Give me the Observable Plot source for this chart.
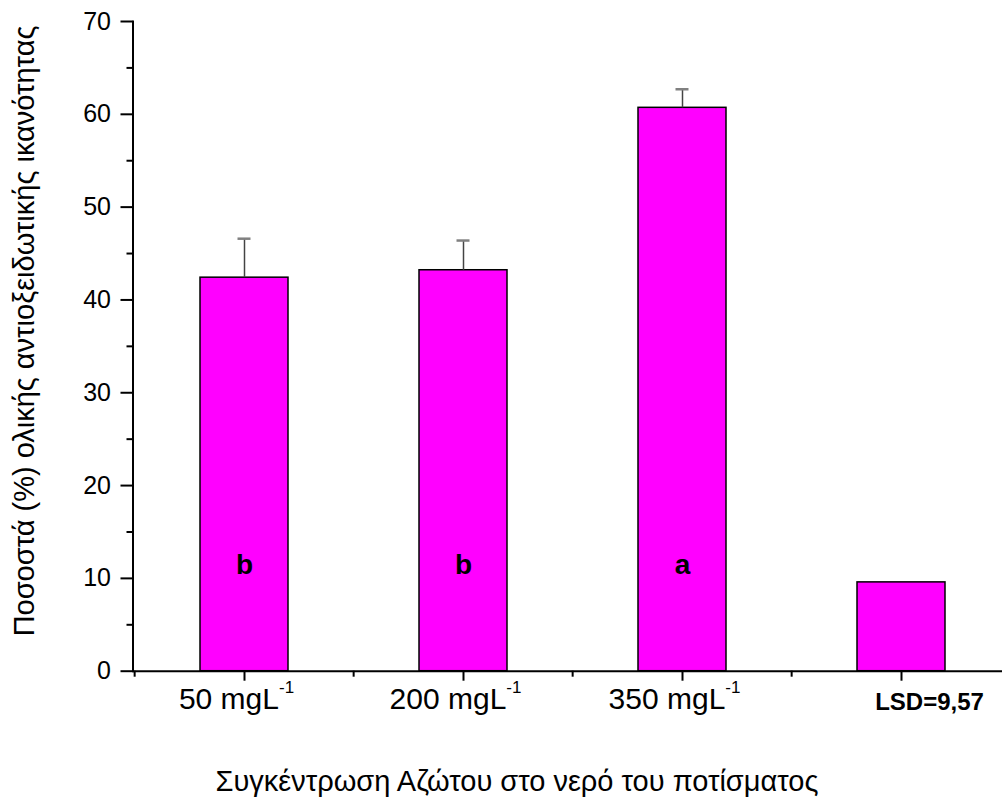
<!DOCTYPE html>
<html>
<head>
<meta charset="utf-8">
<script src="https://cdn.jsdelivr.net/npm/d3@7"></script>
<script src="https://cdn.jsdelivr.net/npm/@observablehq/plot@0.6"></script>
<style>
  html, body { margin: 0; padding: 0; background: white; }
  #chart { width: 1002px; height: 800px; }
</style>
</head>
<body>
<div id="chart"></div>
<script>
// ---- data ----
const categories = ["50", "200", "350", "LSD"];
const tickLabels = ["50 mgL", "200 mgL", "350 mgL", ""];
const superscripts = ["-1", "-1", "-1", ""];
const values = [42.4, 43.2, 60.7, 9.57];
const errors = [4.2, 3.2, 2.0, 0];
const letters = ["b", "b", "a", ""];
const lsdLabel = "LSD=9,57";
const yTicksMajor = [0, 10, 20, 30, 40, 50, 60, 70];
const yTicksMinor = [5, 15, 25, 35, 45, 55, 65];
const yTitle = "Ποσοστά (%) ολικής αντιοξειδωτικής ικανότητας";
const xTitle = "Συγκέντρωση Αζώτου στο νερό του ποτίσματος";
const LETTER_Y = 10.5;

const data = categories.map((c, i) => ({
  cat: c, value: values[i], err: errors[i], letter: letters[i]
}));
const errData = data.filter(d => d.err > 0);

const xScaleOpts = {
  type: "band",
  domain: categories,
  range: [132.5, 1011.3],
  paddingInner: 0.6,
  paddingOuter: 0.3,
  align: 0.5
};
const xs = Plot.scale({x: xScaleOpts});
const step = xs.step ?? (xScaleOpts.range[1] - xScaleOpts.range[0]) / categories.length;
const labelOf = Object.fromEntries(categories.map((c, i) => [c, tickLabels[i]]));

const font = "'Liberation Sans', Arial, Helvetica, sans-serif";

const plot = Plot.plot({
  width: 1002,
  height: 800,
  marginLeft: 132.5,
  marginRight: 0,
  marginTop: 21,
  marginBottom: 129.3,
  style: {fontFamily: font, fontSize: "25px", color: "black", background: "white"},
  x: xScaleOpts,
  y: {domain: [0, 70]},
  marks: [
    Plot.barY(data, {x: "cat", y: "value", fill: "#ff00ff", stroke: "black", strokeWidth: 1.5}),
    Plot.ruleX(errData, {x: "cat", y1: "value", y2: d => d.value + d.err, stroke: "#444", strokeWidth: 1.5}),
    Plot.tickY(errData, {x: "cat", y: d => d.value + d.err, stroke: "#808080", strokeWidth: 2.5, insetLeft: 37.5, insetRight: 37.5}),
    Plot.text(data.filter(d => d.letter), {x: "cat", y: LETTER_Y, text: "letter", fontWeight: "bold", fontSize: 28, lineAnchor: "bottom", fill: "black"}),
    // axes
    Plot.frame({anchor: "left", strokeWidth: 2}),
    Plot.ruleY([0], {strokeWidth: 2}),
    Plot.axisY(yTicksMajor, {tickSize: 12, tickPadding: 10, fontSize: 25, strokeWidth: 2, label: null}),
    Plot.axisY(yTicksMinor, {tickSize: 6, strokeWidth: 2, tickFormat: () => "", label: null}),
    Plot.axisX(categories, {tickSize: 10, strokeWidth: 2, tickFormat: () => "", label: null}),
    Plot.axisX(categories, {tickSize: 0, tickPadding: 16, fontSize: 30, dx: -8, tickFormat: d => labelOf[d], label: null}),
    Plot.axisX(categories, {tickSize: 6, strokeWidth: 2, dx: -step / 2, tickFormat: () => "", label: null}),
    Plot.axisX([categories[3]], {tickSize: 0, tickPadding: 22, fontSize: 24, fontWeight: "bold", dx: 28, tickFormat: () => lsdLabel, label: null}),
    // titles
    Plot.text([yTitle], {frameAnchor: "left", text: d => d, rotate: -90, textAnchor: "start", lineAnchor: "bottom", dx: -99.5, dy: 290, fontSize: 29}),
    Plot.text([xTitle], {frameAnchor: "bottom-left", text: d => d, textAnchor: "start", lineAnchor: "bottom", dx: 82.5, dy: 119.5, fontSize: 29})
  ]
});

// add superscripts to the concentration tick labels
const supOf = Object.fromEntries(tickLabels.map((t, i) => [t, superscripts[i]]));
plot.querySelectorAll("text").forEach(t => {
  const s = t.textContent;
  if (s && supOf[s]) {
    const ts = document.createElementNS("http://www.w3.org/2000/svg", "tspan");
    ts.setAttribute("dy", "-16");
    ts.setAttribute("font-size", "17");
    ts.textContent = supOf[s];
    t.appendChild(ts);
  }
});

document.getElementById("chart").appendChild(plot);
</script>
</body>
</html>
